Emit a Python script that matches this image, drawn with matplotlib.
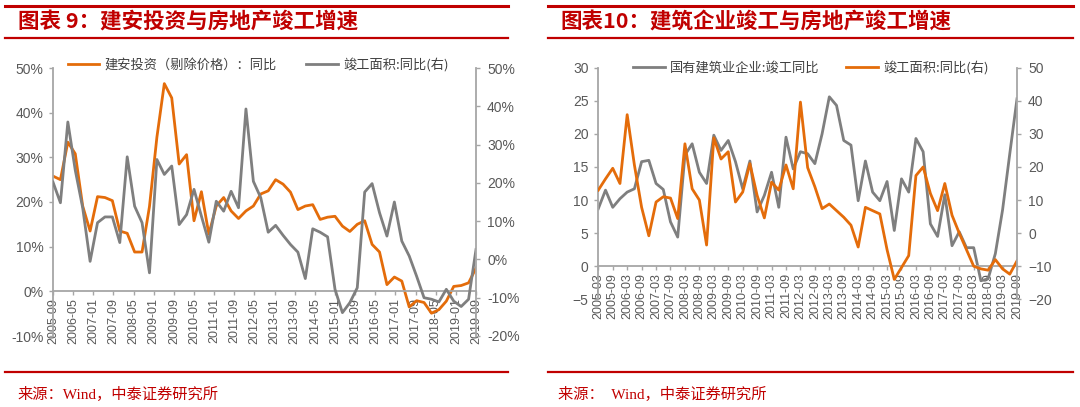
import numpy as np
import matplotlib
matplotlib.use("Agg")
import matplotlib.pyplot as plt
from matplotlib.lines import Line2D
from matplotlib.ticker import FuncFormatter

plt.rcParams['font.family'] = ['Liberation Sans', 'Noto Sans CJK SC', 'DejaVu Sans']

RED = '#C00000'
ORANGE = '#E46C0A'
GRAY = '#7F7F7F'
AXIS = '#A6A6A6'
TEXT = '#595959'

# ---- 图表9: 建安投资与房地产竣工增速 ----
c9_labels = ['2005-09', '2006-05', '2007-01', '2007-09', '2008-05', '2009-01',
             '2009-09', '2010-05', '2011-01', '2011-09', '2012-05', '2013-01',
             '2013-09', '2014-05', '2015-01', '2015-09', '2016-05', '2017-01',
             '2017-09', '2018-05', '2019-01', '2019-09']
# 建安投资（剔除价格）：同比, %
c9_jianan = [25.8, 25.0, 33.4, 30.8, 19.1, 13.5, 21.2, 21.0, 20.3, 13.5,
             13.0, 8.8, 8.8, 19.0, 34.5, 46.5, 43.3, 28.5, 30.6, 15.8,
             22.3, 12.8, 19.1, 21.0, 18.0, 16.3, 18.0, 19.1, 21.8, 22.5,
             25.0, 24.0, 22.2, 18.3, 19.1, 19.4, 16.1, 16.6, 16.8, 14.6,
             13.4, 15.0, 15.8, 10.5, 8.8, 1.5, 3.2, 2.3, -3.5, -2.1,
             -2.5, -4.9, -4.1, -2.2, 1.1, 1.3, 1.9, 5.2]
# 竣工面积:同比(右), %
c9_jungong = [20.2, 14.8, 35.9, 23.3, 13.5, -0.5, 9.6, 11.1, 11.1, 4.4,
              26.8, 13.9, 9.6, -3.5, 26.1, 22.2, 24.4, 9.1, 11.7, 18.3,
              11.3, 4.5, 15.2, 12.6, 17.8, 13.5, 39.3, 20.4, 16.1, 7.1,
              8.9, 6.3, 3.9, 1.9, -5.0, 8.0, 7.1, 5.9, -7.8, -13.9,
              -11.3, -7.4, 17.6, 19.8, 12.2, 6.1, 15.0, 4.8, 0.9, -4.4,
              -10.0, -10.4, -11.1, -7.8, -10.9, -12.3, -10.4, 2.6]

# ---- 图表10: 建筑企业竣工与房地产竣工增速 ----
c10_labels = ['2005-03', '2005-09', '2006-03', '2006-09', '2007-03', '2007-09',
              '2008-03', '2008-09', '2009-03', '2009-09', '2010-03', '2010-09',
              '2011-03', '2011-09', '2012-03', '2012-09', '2013-03', '2013-09',
              '2014-03', '2014-09', '2015-03', '2015-09', '2016-03', '2016-09',
              '2017-03', '2017-09', '2018-03', '2018-09', '2019-03', '2019-09']
# 国有建筑业企业:竣工同比
c10_guoyou = [8.7, 11.5, 8.9, 10.2, 11.2, 11.7, 15.8, 16.0, 12.5, 11.6,
              6.7, 4.4, 16.8, 18.5, 14.2, 12.5, 19.8, 17.5, 19.0, 15.8,
              11.7, 15.9, 8.2, 10.7, 14.2, 8.9, 19.5, 14.7, 17.3, 17.0,
              15.5, 20.0, 25.6, 24.3, 19.0, 18.3, 9.9, 15.9, 11.2, 9.9,
              12.8, 5.4, 13.2, 11.2, 19.3, 17.3, 6.4, 4.5, 10.8, 3.1,
              5.2, 2.8, 2.8, -2.2, -1.9, 1.9, 8.5, 17.0, 25.3]
# 竣工面积:同比(右)
c10_jungong = [13.0, 16.4, 19.6, 15.0, 35.8, 20.6, 7.8, -0.8, 9.4, 11.0,
               10.6, 4.4, 27.0, 13.4, 10.0, -3.6, 28.8, 22.4, 24.6, 9.4,
               12.4, 21.0, 11.4, 4.6, 15.4, 13.0, 20.6, 13.4, 39.6, 19.8,
               14.0, 7.4, 8.8, 6.8, 4.8, 2.4, -4.2, 7.8, 6.8, 5.8,
               -5.0, -14.0, -10.4, -6.8, 17.4, 20.0, 12.0, 6.8, 15.0, 5.4,
               0.0, -5.0, -10.0, -10.8, -11.2, -8.0, -10.8, -12.4, -8.4]

W, H = 1080, 407
fig = plt.figure(figsize=(W / 100, H / 100), dpi=100)


def px_box(x0, y0, x1, y1):
    return [x0 / W, 1 - y1 / H, (x1 - x0) / W, (y1 - y0) / H]


def frame(x0, x1, title, tx, src, sx):
    # red rules and texts around each panel
    for y, lw in [(6, 2.2), (38, 1.6), (372, 1.6)]:
        fig.add_artist(Line2D([x0 / W, x1 / W], [1 - y / H, 1 - y / H],
                              color=RED, lw=lw, transform=fig.transFigure))
    fig.text(tx / W, 1 - 22 / H, title, color=RED, fontsize=15.5,
             fontweight='bold', va='center', ha='left',
             family=['Noto Sans CJK SC'])
    fig.text(sx / W, 1 - 394 / H, src, color=RED, fontsize=11,
             va='center', ha='left', family=['Liberation Serif', 'Noto Sans CJK SC'])


def style(ax, ax2, xt, xl):
    for s in ['top', 'right']:
        ax.spines[s].set_visible(False)
    for s in ['top', 'left', 'bottom']:
        ax2.spines[s].set_visible(False)
    ax.spines['bottom'].set_position(('data', 0))
    for sp in [ax.spines['left'], ax.spines['bottom'], ax2.spines['right']]:
        sp.set_color(AXIS)
        sp.set_linewidth(1.3)
    ax.set_xticks(xt)
    ax.set_xticklabels(xl, rotation=90)
    ax.tick_params(axis='x', colors=AXIS, labelcolor=TEXT, length=3, width=1,
                   labelsize=9, pad=2)
    ax.tick_params(axis='y', colors=AXIS, labelcolor=TEXT, length=3, width=1,
                   labelsize=10, pad=4)
    ax2.tick_params(axis='y', colors=AXIS, labelcolor=TEXT, length=3, width=1,
                    labelsize=10, pad=5)


pct = FuncFormatter(lambda v, p: f'{v:.0f}%')

# ---------------- left panel ----------------
frame(5, 508, '图表 9：建安投资与房地产竣工增速', 18,
      '来源：Wind，中泰证券研究所', 17)
ax1 = fig.add_axes(px_box(53, 68, 476, 336))
ax1b = ax1.twinx()
x9 = np.arange(len(c9_jianan))
l1, = ax1.plot(x9, c9_jianan, color=ORANGE, lw=2.0, label='建安投资（剔除价格）：同比')
l2, = ax1b.plot(x9, c9_jungong, color=GRAY, lw=2.0, label='竣工面积:同比(右)')
ax1.set_xlim(0, len(x9) - 1)
ax1.set_ylim(-10, 50)
ax1b.set_ylim(-20, 50)
ax1.set_yticks(np.arange(-10, 51, 10))
ax1b.set_yticks(np.arange(-20, 51, 10))
ax1.yaxis.set_major_formatter(pct)
ax1b.yaxis.set_major_formatter(pct)
style(ax1, ax1b, np.linspace(0, len(x9) - 1, len(c9_labels)), c9_labels)
ax1b.legend([l1, l2], [l1.get_label(), l2.get_label()], ncol=2, frameon=False,
            loc='upper left', bbox_to_anchor=(0.035, 1.04), borderpad=0,
            borderaxespad=0, handlelength=2.4, handletextpad=0.4,
            columnspacing=2.2, prop={'family': ['Noto Sans CJK SC'], 'size': 9.5},
            labelcolor='#404040')

# ---------------- right panel ----------------
frame(548, 1073, '图表10：建筑企业竣工与房地产竣工增速', 560,
      '来源：  Wind，中泰证券研究所', 558)
ax2 = fig.add_axes(px_box(598.3, 67.7, 1017, 299.3))
ax2b = ax2.twinx()
x10 = np.arange(len(c10_guoyou))
g1, = ax2.plot(x10, c10_guoyou, color=GRAY, lw=2.0, label='国有建筑业企业:竣工同比')
g2, = ax2b.plot(x10, c10_jungong, color=ORANGE, lw=2.0, label='竣工面积:同比(右)')
ax2.set_xlim(0, len(x10) - 1)
ax2.set_ylim(-5, 30)
ax2b.set_ylim(-20, 50)
ax2.set_yticks(np.arange(-5, 31, 5))
ax2b.set_yticks(np.arange(-20, 51, 10))
style(ax2, ax2b, np.arange(0, len(x10), 2), c10_labels)
ax2b.legend([g1, g2], [g1.get_label(), g2.get_label()], ncol=2, frameon=False,
            loc='upper left', bbox_to_anchor=(0.083, 1.03), borderpad=0,
            borderaxespad=0, handlelength=2.4, handletextpad=0.4,
            columnspacing=2.0, prop={'family': ['Noto Sans CJK SC'], 'size': 9.5},
            labelcolor='#404040')

fig.savefig('out.png', dpi=100)
